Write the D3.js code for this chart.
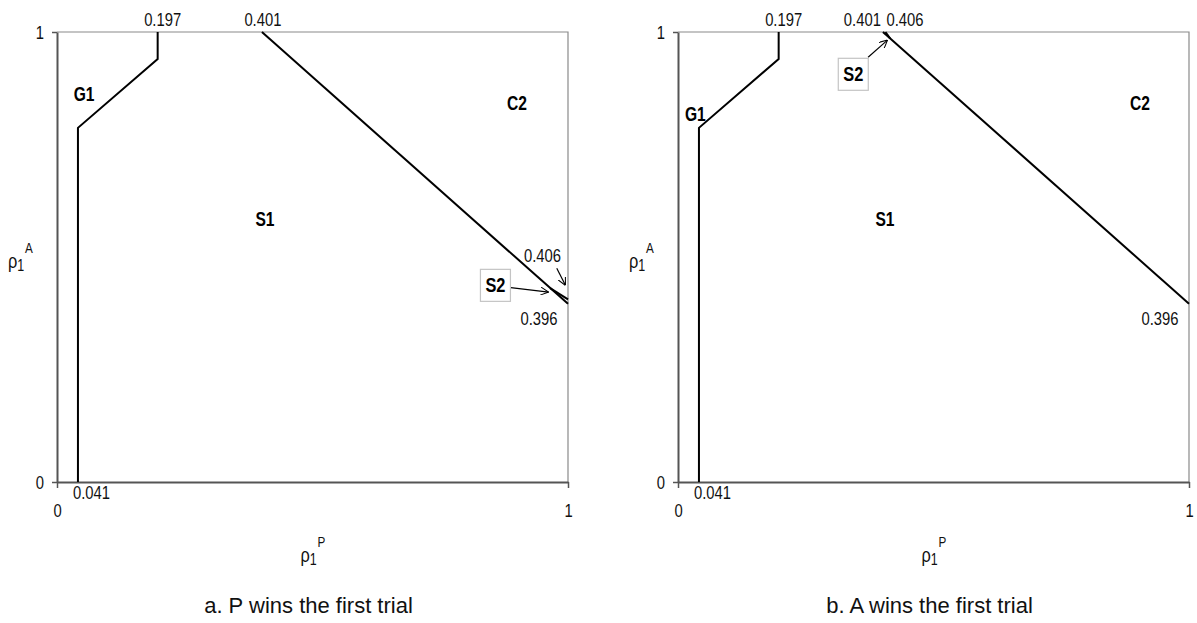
<!DOCTYPE html>
<html>
<head>
<meta charset="utf-8">
<script src="https://cdn.jsdelivr.net/npm/d3@7"></script>
<style>
  html, body { margin: 0; padding: 0; background: #fff; }
  svg { display: block; }
  .narrow { font-family: "Liberation Sans", Arial, sans-serif; }
  .caption { font-family: "Liberation Sans", Arial, sans-serif; }
</style>
</head>
<body>
<svg id="chart" width="1197" height="623"></svg>
<script>
// Axis ticks shared by both panels
const axisTicks = [0, 1];

// Panel captions
const captions = ["a. P wins the first trial", "b. A wins the first trial"];

// G1 boundary (same in both panels)
const g1X = [0.041, 0.041, 0.197, 0.197];
const g1Y = [0, 0.787, 0.94, 1];

// Main S1 / C2 boundary (same in both panels)
const mainX = [0.401, 1];
const mainY = [1, 0.396];

// S2 boundary, panel a: meets the right edge at 0.406
const s2aX = [0.965, 1];
const s2aY = [0.431, 0.406];

// S2 boundary, panel b: leaves the top edge at 0.406
const s2bX = [0.406, 0.415];
const s2bY = [1, 0.986];

// Region names
const regionsA = [
  { name: "G1", x: 0.053, y: 0.847 },
  { name: "S1", x: 0.407, y: 0.569 },
  { name: "C2", x: 0.900, y: 0.827 }
];
const regionsB = [
  { name: "G1", x: 0.034, y: 0.802 },
  { name: "S1", x: 0.405, y: 0.569 },
  { name: "C2", x: 0.904, y: 0.827 }
];

const SQUEEZE = 0.78; // condensed look for the chart lettering

const svg = d3.select("#chart");

// Open arrow head
svg.append("defs").append("marker")
  .attr("id", "arrow")
  .attr("viewBox", "0 0 10 10")
  .attr("refX", 10).attr("refY", 5)
  .attr("markerWidth", 8).attr("markerHeight", 8)
  .attr("markerUnits", "userSpaceOnUse")
  .attr("orient", "auto")
  .append("path")
  .attr("d", "M0,0 L10,5 L0,10")
  .attr("fill", "none")
  .attr("stroke", "#000")
  .attr("stroke-width", 1.3);

// move x/y into a transform and compress horizontally
function squeeze(sel) {
  sel.each(function () {
    const t = d3.select(this);
    const px = +t.attr("x") || 0, py = +t.attr("y") || 0;
    t.attr("x", null).attr("y", null)
      .attr("transform", `translate(${px},${py}) scale(${SQUEEZE},1)`);
  });
}

const plotW = 511, plotH = 450;
const panels = [
  { left: 57, top: 32, caption: captions[0], s2X: s2aX, s2Y: s2aY, regions: regionsA, id: "a" },
  { left: 678, top: 32, caption: captions[1], s2X: s2bX, s2Y: s2bY, regions: regionsB, id: "b" }
];

const line = (x, y) => d3.line().x(d => x(d[0])).y(d => y(d[1]));

panels.forEach(p => {
  const g = svg.append("g").attr("transform", `translate(${p.left},${p.top})`);
  const x = d3.scaleLinear().domain([0, 1]).range([0, plotW]);
  const y = d3.scaleLinear().domain([0, 1]).range([plotH, 0]);

  // top and right frame
  g.append("path")
    .attr("d", `M${x(0)},${y(1)}H${x(1)}V${y(0)}`)
    .attr("fill", "none").attr("stroke", "#8a8a8a").attr("stroke-width", 1.2);

  // axes
  const xAxis = g.append("g").attr("transform", `translate(0,${plotH})`)
    .call(d3.axisBottom(x).tickValues(axisTicks).tickFormat(d3.format("d"))
      .tickSize(6).tickSizeOuter(0).tickPadding(15));
  const yAxis = g.append("g")
    .call(d3.axisLeft(y).tickValues(axisTicks).tickFormat(d3.format("d"))
      .tickSize(5).tickSizeOuter(0).tickPadding(8));
  [xAxis, yAxis].forEach(a => {
    a.select(".domain").attr("stroke", "#555").attr("stroke-width", 2);
    a.selectAll(".tick line").attr("stroke", "#555").attr("stroke-width", 1.5);
    a.selectAll(".tick text").attr("class", "narrow").attr("font-size", 19).attr("fill", "#111")
      .call(squeeze);
    a.attr("font-family", null);
  });

  // boundaries
  const draw = (xs, ys) => g.append("path")
    .datum(xs.map((v, i) => [v, ys[i]]))
    .attr("d", line(x, y))
    .attr("fill", "none").attr("stroke", "#000").attr("stroke-width", 2)
    .attr("stroke-linejoin", "miter");
  draw(g1X, g1Y);
  draw(mainX, mainY);
  draw(p.s2X, p.s2Y);

  // region names
  g.selectAll(".region").data(p.regions).enter().append("text")
    .attr("class", "narrow")
    .attr("x", d => x(d.x)).attr("y", d => y(d.y))
    .attr("text-anchor", "middle")
    .attr("font-size", 20).attr("font-weight", "bold").attr("fill", "#000")
    .text(d => d.name)
    .call(squeeze);

  const label = (txt, px, py, anchor) => g.append("text")
    .attr("class", "narrow").attr("x", px).attr("y", py)
    .attr("text-anchor", anchor || "middle")
    .attr("font-size", 19).attr("fill", "#111").text(txt)
    .call(squeeze);

  // boundary values on the edges
  label("0.197", x(g1X[3]) + 5, y(1) - 6);
  label("0.041", x(g1X[0]) - 5, y(0) + 17, "start");
  label("0.396", x(mainX[1]) - 29, y(mainY[1]) + 21);

  const s2box = (cx, cy) => {
    g.append("rect")
      .attr("x", x(cx) - 15).attr("y", y(cy) - 16)
      .attr("width", 30).attr("height", 32)
      .attr("fill", "#fff").attr("stroke", "#c4c4c4").attr("stroke-width", 1.2);
    g.append("text").attr("class", "narrow")
      .attr("x", x(cx)).attr("y", y(cy) + 7)
      .attr("text-anchor", "middle")
      .attr("font-size", 21).attr("font-weight", "bold").attr("fill", "#000")
      .text("S2")
      .call(squeeze);
  };
  const arrow = (x0, y0, x1, y1) => g.append("line")
    .attr("x1", x(x0)).attr("y1", y(y0)).attr("x2", x(x1)).attr("y2", y(y1))
    .attr("stroke", "#000").attr("stroke-width", 1.2)
    .attr("marker-end", "url(#arrow)");

  if (p.id === "a") {
    label("0.401", x(mainX[0]) + 1, y(1) - 6);
    label("0.406", x(0.950), y(0.49));
    arrow(0.978, 0.475, 0.995, 0.437);
    arrow(0.888, 0.432, 0.962, 0.422);
    s2box(0.858, 0.437);
  } else {
    label("0.401", x(mainX[0]) - 2, y(1) - 6, "end");
    label("0.406", x(s2bX[0]) + 1, y(1) - 6, "start");
    arrow(0.372, 0.944, 0.410, 0.982);
    s2box(0.343, 0.906);
  }

  // axis titles
  const yt = g.append("text").attr("class", "narrow")
    .attr("x", -49).attr("y", y(0.475)).attr("font-size", 21).attr("fill", "#111");
  yt.append("tspan").text("ρ");
  yt.append("tspan").attr("dy", 3).attr("font-size", 16).text("1");
  yt.append("tspan").attr("dy", -18).attr("dx", 1).attr("font-size", 15).text("A");
  yt.call(squeeze);

  const xt = g.append("text").attr("class", "narrow")
    .attr("x", plotW / 2 - 12).attr("y", plotH + 80).attr("font-size", 21).attr("fill", "#111");
  xt.append("tspan").text("ρ");
  xt.append("tspan").attr("dy", 3).attr("font-size", 16).text("1");
  xt.append("tspan").attr("dy", -18).attr("dx", 1).attr("font-size", 15).text("P");
  xt.call(squeeze);

  // caption
  g.append("text").attr("class", "caption")
    .attr("x", plotW / 2 - 4).attr("y", plotH + 131)
    .attr("text-anchor", "middle")
    .attr("font-size", 22).attr("fill", "#111")
    .text(p.caption);
});
</script>
</body>
</html>
